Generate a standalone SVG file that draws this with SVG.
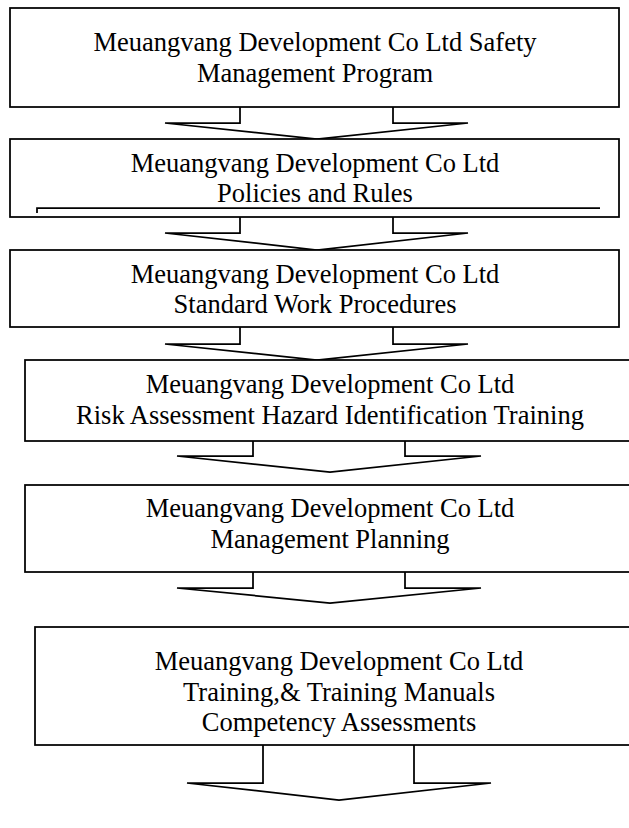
<svg xmlns="http://www.w3.org/2000/svg" width="629" height="828" viewBox="0 0 629 828">
  <style>
    .box { fill: #fff; stroke: #000; stroke-width: 1.75; }
    .arrow { fill: #fff; stroke: #000; stroke-width: 1.75; stroke-linejoin: miter; }
    .rule { fill: none; stroke: #000; stroke-width: 1.75; }
    text { font-family: "Liberation Serif", "Times New Roman", serif; font-size: 26.5px; fill: #000; text-anchor: middle; }
  </style>
  <rect width="629" height="828" fill="#fff"/>

  <!-- block arrows between the stages -->
  <g id="connectors">
    <path class="arrow" d="M240,107 V123 H165 L317,139 L468,123 H393 V107"/>
    <path class="arrow" d="M240,217 V233 H165 L317,250 L468,233 H393 V217"/>
    <path class="arrow" d="M240,327 V344 H165 L317,360 L468,344 H393 V327"/>
    <path class="arrow" d="M253,441 V456 H177 L330,472 L481,456 H405 V441"/>
    <path class="arrow" d="M253,572 V588 H177 L330,603 L481,588 H405 V572"/>
    <path class="arrow" d="M263,745 V783 H187 L339,800 L491,783 H414 V745"/>
  </g>

  <g id="program">
    <rect class="box" x="10" y="8" width="609" height="99"/>
    <text x="315" y="51">Meuangvang Development Co Ltd Safety</text>
    <text x="315" y="82">Management Program</text>
  </g>

  <g id="policies">
    <rect class="box" x="10" y="139" width="609" height="78"/>
    <text x="315" y="172">Meuangvang Development Co Ltd</text>
    <text x="315" y="202">Policies and Rules</text>
    <path class="rule" d="M37,213 V208 H600"/>
  </g>

  <g id="procedures">
    <rect class="box" x="10" y="250" width="609" height="77"/>
    <text x="315" y="283">Meuangvang Development Co Ltd</text>
    <text x="315" y="313">Standard Work Procedures</text>
  </g>

  <g id="risk">
    <rect class="box" x="25" y="360" width="612" height="81"/>
    <text x="330" y="393">Meuangvang Development Co Ltd</text>
    <text x="330" y="424">Risk Assessment Hazard Identification Training</text>
  </g>

  <g id="planning">
    <rect class="box" x="25" y="485" width="612" height="87"/>
    <text x="330" y="517">Meuangvang Development Co Ltd</text>
    <text x="330" y="548">Management Planning</text>
  </g>

  <g id="training">
    <rect class="box" x="35" y="627" width="602" height="118"/>
    <text x="339" y="670">Meuangvang Development Co Ltd</text>
    <text x="339" y="701">Training,&amp; Training Manuals</text>
    <text x="339" y="731">Competency Assessments</text>
  </g>
</svg>
